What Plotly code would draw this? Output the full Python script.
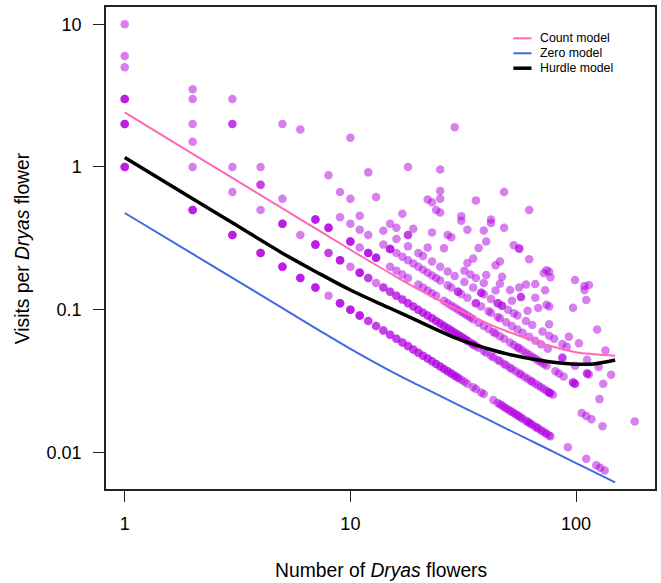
import plotly.graph_objects as go

# ---------------- data: flowers per plot, grouped by number of visits ----------------
flowers_v1 = [1,1,1, 2,2,2, 3,3,3, 4,4,4, 5,5,5, 6,6,6, 7,7,7, 8, 9,9,9, 10,10,10, 11,11,11,
              12,12, 13,13, 14,14, 15,15, 16,16, 17,17, 18,18, 19,19, 20,20, 21,21, 22,22, 23,23,
              24,24, 25,25, 26,26, 27,27, 28,28, 29,29, 30,30, 31, 32, 33, 35, 36, 38, 39,
              43, 45, 46, 47, 48, 49, 50, 51, 52, 53, 54, 55, 56, 57, 58, 60, 61, 62, 63, 64, 66,
              67, 68, 70, 71, 73, 74, 76, 77, 92, 111, 123, 128, 134]
flowers_v2 = [1,1,1, 2, 3, 4, 5,5,5, 6, 7,7,7, 8,8, 9,9,9, 10, 11,11,11, 12,12, 13, 14,14, 15,15,
              16,16, 17,17, 18,18, 19,19, 20,20, 21,21, 22,22, 23,23, 24,24, 25,25, 26,26, 27,27,
              28,28, 29,29, 30,30, 31,31, 32,32, 33,33, 34, 35,35, 36, 37, 39, 40, 42, 43, 45, 46,
              48, 49, 51, 52, 54, 56, 57, 59, 61, 63, 64, 66, 68, 70, 72, 74, 76, 76, 77, 79,
              106, 111, 117, 131]
flowers_v3 = [1,1,1, 2, 3, 4,4, 5, 7,7,7, 8,8,8, 10,10,10, 11, 12,12,12, 13,13,13, 15, 16, 17, 18,
              20, 21, 22, 23, 24, 26, 27, 28, 29, 30, 31, 32, 33, 34, 35, 37, 39, 41, 43, 44, 46,
              48, 51, 53, 55, 56, 58, 60, 62, 64, 66, 68, 70, 72, 74, 81, 84, 88, 97, 97, 99, 99,
              127, 182]
flowers_v4 = [2, 4, 9, 10, 11, 12, 14, 15,15,15, 16, 17, 18, 19, 20, 21, 22, 23, 24, 25, 27, 28,
              30,30, 31, 33, 36,36, 38, 41, 42, 45, 46, 49, 52, 55, 58, 62, 66, 70, 75, 87,87, 99,
              112,112, 114, 132]
flowers_v5 = [1, 11, 14, 16, 18, 20, 21, 23, 25, 27, 29, 32, 35, 38,38, 39, 42, 45,45, 47,47, 50,
              53, 55, 60, 64, 71, 76, 80, 87, 91, 112, 126, 143]
flowers_v6 = [1, 2, 3,3, 9, 10, 15, 16, 18,18, 22, 32, 34, 36, 39, 44, 52, 61, 76, 93, 103]
flowers_v7 = [2, 8, 19, 26, 33, 40, 46, 51, 57,57, 68, 135]
flowers_v8 = [13, 17, 23, 35, 47, 56, 66, 74, 76]
flowers_v9 = [3, 27, 28, 44, 60, 124]
flowers_v10 = [1, 5, 37, 46, 66, 73, 97]
# sparse plots with many visits: (flowers, visits)
sparse_flowers = [6, 12, 24, 25, 33, 40, 22, 23, 31, 72, 77, 111, 31, 39, 62, 74, 76,
                  25, 53, 56, 56, 109, 10, 99, 109, 25, 42, 114, 18, 42, 48, 36, 25, 62, 48, 29]
sparse_visits = [11, 11, 12, 12, 12, 12, 13, 13, 13, 13, 13, 13, 14, 14, 14, 14, 14,
                 15, 15, 15, 15, 15, 16, 16, 16, 17, 17, 17, 18, 18, 18, 21, 24, 31, 32, 55]

# ---------------- fitted model curves ----------------
model_flowers = [1, 2, 3, 5, 7, 10, 15, 20, 30, 40, 50, 70, 100, 120, 149]
count_model = [2.41, 1.237, 0.838, 0.513, 0.371, 0.263, 0.180, 0.139, 0.100, 0.0809, 0.070,
               0.0582, 0.0504, 0.0488, 0.0476]
zero_model = [0.476, 0.2458, 0.167, 0.1024, 0.0743, 0.0531, 0.0373, 0.0296, 0.02155, 0.01722,
              0.01446, 0.01113, 0.00842, 0.00731, 0.00617]
hurdle_model = [1.167, 0.598, 0.406, 0.249, 0.1854, 0.1374, 0.1023, 0.0832, 0.0624, 0.0537,
                0.0488, 0.0441, 0.0415, 0.0417, 0.0444]

x_ticks = [1, 10, 100]
x_ticklabels = ["1", "10", "100"]
y_ticks = [0.01, 0.1, 1, 10]
y_ticklabels = ["0.01", "0.1", "1", "10"]

# ---------------- assemble points ----------------
bands = [flowers_v1, flowers_v2, flowers_v3, flowers_v4, flowers_v5,
         flowers_v6, flowers_v7, flowers_v8, flowers_v9, flowers_v10]
px_f, px_v = [], []
for k, fl in enumerate(bands, start=1):
    for f in fl:
        px_f.append(f)
        px_v.append(k)
px_f += sparse_flowers
px_v += sparse_visits
rate = [v / f for v, f in zip(px_v, px_f)]

FONT = "Liberation Sans, Arial, Helvetica, sans-serif"

fig = go.Figure()
fig.add_trace(go.Scatter(
    x=px_f, y=rate, mode="markers", showlegend=False,
    marker=dict(size=8.5, color="rgba(178,0,226,0.5)", line=dict(width=0)),
    hoverinfo="skip"))
fig.add_trace(go.Scatter(x=model_flowers, y=count_model, mode="lines", name="Count model",
                         line=dict(color="#FF69B4", width=2, shape="spline"), showlegend=False))
fig.add_trace(go.Scatter(x=model_flowers, y=zero_model, mode="lines", name="Zero model",
                         line=dict(color="#4169E1", width=2, shape="spline"), showlegend=False))
fig.add_trace(go.Scatter(x=model_flowers, y=hurdle_model, mode="lines", name="Hurdle model",
                         line=dict(color="black", width=3.5, shape="spline"), showlegend=False))

# manual legend (paper coordinates)
legend_items = [("Count model", "#FF69B4", 2), ("Zero model", "#4169E1", 2), ("Hurdle model", "black", 3.5)]
shapes, annos = [], []
for i, (lab, col, w) in enumerate(legend_items):
    yy = 0.935 - i * 0.031
    shapes.append(dict(type="line", xref="paper", yref="paper", x0=0.742, x1=0.775, y0=yy, y1=yy,
                       line=dict(color=col, width=w)))
    annos.append(dict(xref="paper", yref="paper", x=0.786, y=yy, text=lab, showarrow=False,
                      xanchor="left", yanchor="middle", font=dict(family=FONT, size=12.3, color="black")))

annos.append(dict(xref="paper", yref="paper", x=0.5, y=-0.170, text="Number of <i>Dryas</i> flowers",
                  showarrow=False, xanchor="center", yanchor="middle",
                  font=dict(family=FONT, size=19.3, color="black")))
annos.append(dict(xref="paper", yref="paper", x=-0.1525, y=0.5, text="Visits per <i>Dryas</i> flower",
                  showarrow=False, xanchor="center", yanchor="middle", textangle=-90,
                  font=dict(family=FONT, size=19.3, color="black")))

axis_common = dict(type="log", showgrid=False, zeroline=False, showline=True, mirror=True,
                   linecolor="#222", linewidth=1.5, ticks="outside", ticklen=11, tickwidth=1.2,
                   tickcolor="#222", tickfont=dict(family=FONT, size=18, color="black"))
fig.update_layout(
    width=661, height=583, margin=dict(l=106, r=4, t=7, b=94),
    paper_bgcolor="white", plot_bgcolor="white",
    xaxis=dict(range=[-0.083, 2.350], tickvals=x_ticks, ticktext=x_ticklabels,
               ticklabelstandoff=7, **axis_common),
    yaxis=dict(range=[-2.2565, 1.121], tickvals=y_ticks, ticktext=y_ticklabels,
               ticklabelstandoff=8, **axis_common),
    shapes=shapes, annotations=annos,
)
fig.write_html("out.html", config={"displayModeBar": False},
               post_script="document.body.style.margin='0';document.body.style.overflow='hidden';")
